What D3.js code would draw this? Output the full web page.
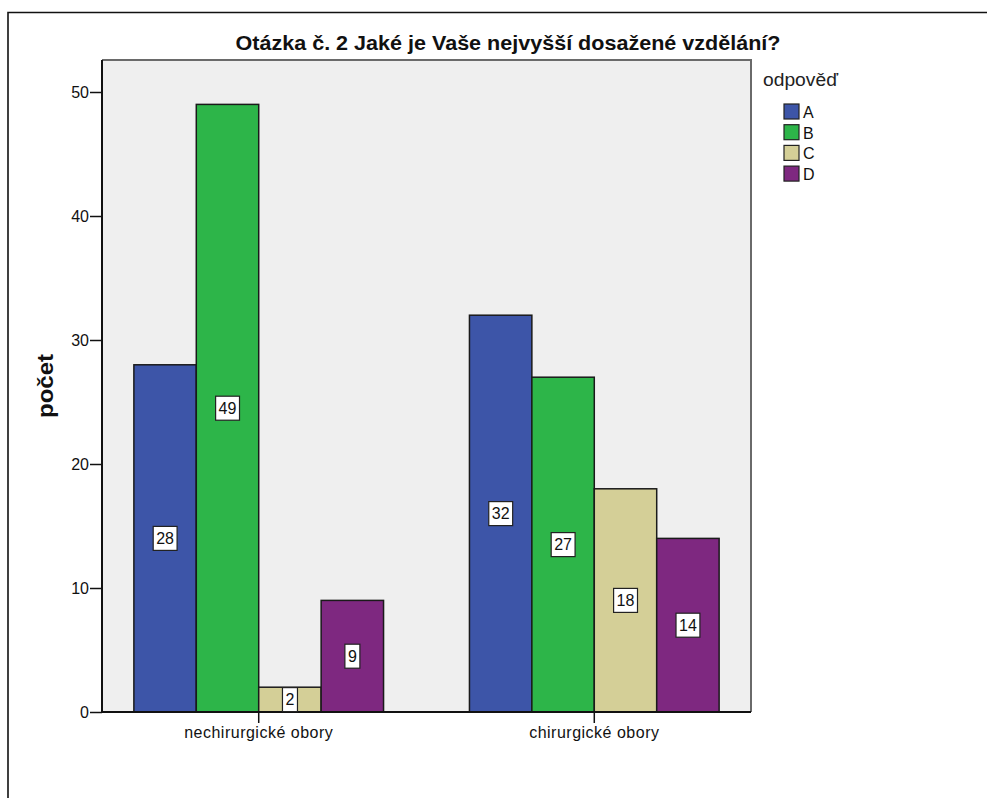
<!DOCTYPE html>
<html>
<head>
<meta charset="utf-8">
<script src="https://cdn.jsdelivr.net/npm/d3@7/dist/d3.min.js"></script>
<style>
  html, body { margin: 0; padding: 0; background: #fff; }
  svg { display: block; font-family: "Liberation Sans", Arial, sans-serif; }
</style>
</head>
<body>
<svg id="chart" width="987" height="798"></svg>
<script>
// Counts of answers per field group
const categories = ["nechirurgické obory", "chirurgické obory"];
const answers = ["A", "B", "C", "D"];
const countsA = [28, 32];
const countsB = [49, 27];
const countsC = [2, 18];
const countsD = [9, 14];
const yTicks = [0, 10, 20, 30, 40, 50];
const answerColors = ["#3d55a8", "#2db549", "#d4cf97", "#7e2880"];

const seriesValues = [countsA, countsB, countsC, countsD];
const rows = [];
categories.forEach((cat, ci) => {
  answers.forEach((ans, ai) => rows.push({ cat, ans, value: seriesValues[ai][ci], idx: ai }));
});

const svg = d3.select("#chart");
const W = 987, H = 798;
const FONT = "'Liberation Sans', Arial, sans-serif";

// outer frame
svg.append("path")
  .attr("d", `M8,${H}V12.5H${W}`)
  .attr("fill", "none").attr("stroke", "#111").attr("stroke-width", 1.6);

const plot = { left: 102, right: 751, top: 60, bottom: 712 };

const x = d3.scaleBand().domain(categories)
  .range([plot.left, plot.right]).paddingInner(0.256).paddingOuter(0.095);
const xInner = d3.scaleBand().domain(answers).range([0, x.bandwidth()]).padding(0);
const y = d3.scaleLinear().domain([0, 50]).range([plot.bottom, plot.bottom - 620]);
const color = d3.scaleOrdinal().domain(answers).range(answerColors);

// plot background and frame
svg.append("rect")
  .attr("x", plot.left).attr("y", plot.top)
  .attr("width", plot.right - plot.left).attr("height", plot.bottom - plot.top)
  .attr("fill", "#efefef");
svg.append("path")
  .attr("d", `M${plot.left},${plot.top}H${plot.right}V${plot.bottom}`)
  .attr("fill", "none").attr("stroke", "#6a6a6a").attr("stroke-width", 2);

// bars
svg.append("g").selectAll("rect").data(rows).join("rect")
  .attr("x", d => x(d.cat) + xInner(d.ans))
  .attr("y", d => y(d.value))
  .attr("width", xInner.bandwidth())
  .attr("height", d => y(0) - y(d.value))
  .attr("fill", d => color(d.ans))
  .attr("stroke", "#1a1a1a").attr("stroke-width", 1.5);

// axes
const yAxis = svg.append("g").attr("transform", `translate(${plot.left},0)`)
  .call(d3.axisLeft(y).tickValues(yTicks).tickSize(12).tickSizeOuter(0).tickPadding(1));
const xAxis = svg.append("g").attr("transform", `translate(0,${plot.bottom})`)
  .call(d3.axisBottom(x).tickSize(11).tickSizeOuter(0).tickPadding(4));
[yAxis, xAxis].forEach(g => {
  g.select(".domain").remove();
  g.selectAll(".tick line").attr("stroke", "#111").attr("stroke-width", 1.5);
  g.selectAll(".tick text").attr("fill", "#111").style("font-family", FONT);
});
yAxis.selectAll(".tick text").attr("font-size", 16);
xAxis.selectAll(".tick text").attr("font-size", 16).attr("letter-spacing", 0.5);
// axis lines along the left and bottom of the plot
svg.append("path")
  .attr("d", `M${plot.left},${plot.top}V${plot.bottom}H${plot.right}`)
  .attr("fill", "none").attr("stroke", "#111").attr("stroke-width", 2);

// value labels
const labels = svg.append("g").selectAll("g").data(rows).join("g")
  .attr("transform", d => `translate(${x(d.cat) + xInner(d.ans) + xInner.bandwidth() / 2},${y(d.value / 2)})`);
labels.append("text")
  .attr("text-anchor", "middle").attr("dy", "0.36em")
  .attr("font-size", 16).attr("fill", "#111")
  .text(d => d.value);
labels.each(function () {
  const g = d3.select(this);
  const bb = g.select("text").node().getBBox();
  g.insert("rect", "text")
    .attr("x", bb.x - 3).attr("y", -12)
    .attr("width", bb.width + 6).attr("height", 24)
    .attr("fill", "#fff").attr("stroke", "#222").attr("stroke-width", 1.2);
});

// title
svg.append("text")
  .attr("x", 508).attr("y", 50)
  .attr("text-anchor", "middle")
  .attr("font-size", 20).attr("font-weight", "bold").attr("fill", "#111")
  .attr("textLength", 545).attr("lengthAdjust", "spacingAndGlyphs")
  .text("Otázka č. 2 Jaké je Vaše nejvyšší dosažené vzdělání?");

// y axis title
svg.append("text")
  .attr("transform", `translate(53,${(plot.top + plot.bottom) / 2}) rotate(-90)`)
  .attr("text-anchor", "middle")
  .attr("font-size", 22).attr("font-weight", "bold").attr("fill", "#111")
  .attr("textLength", 64).attr("lengthAdjust", "spacingAndGlyphs")
  .text("počet");

// legend
const legend = svg.append("g").attr("transform", "translate(763,0)");
legend.append("text")
  .attr("x", 0).attr("y", 86)
  .attr("font-size", 18).attr("fill", "#222")
  .attr("textLength", 75).attr("lengthAdjust", "spacingAndGlyphs")
  .text("odpověď");
const items = legend.selectAll("g").data(answers).join("g")
  .attr("transform", (d, i) => `translate(21,${104 + i * 20.7})`);
items.append("rect")
  .attr("width", 15).attr("height", 15)
  .attr("fill", d => color(d)).attr("stroke", "#222").attr("stroke-width", 1.2);
items.append("text")
  .attr("x", 19).attr("y", 14)
  .attr("font-size", 16).attr("fill", "#111")
  .text(d => d);
</script>
</body>
</html>
